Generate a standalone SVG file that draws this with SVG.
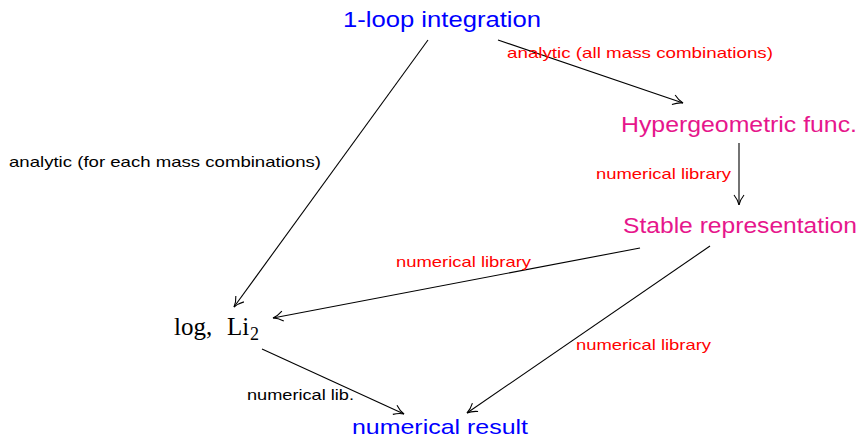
<svg xmlns="http://www.w3.org/2000/svg" width="860" height="441" viewBox="0 0 860 441">
<style>
.sans{font-family:"Liberation Sans","DejaVu Sans",sans-serif}
.node{font-size:22px}
.lbl{font-size:14.5px}
.blue{fill:#0000ff}
.mag{fill:#e6168c}
.red{fill:#ff0000}
.blk{fill:#000}
.edge{stroke:#000;stroke-width:1.1;fill:none;marker-end:url(#arr)}
</style>
<defs>
<marker id="arr" markerWidth="14" markerHeight="14" refX="10" refY="5" orient="auto" markerUnits="userSpaceOnUse" viewBox="0 0 14 10" overflow="visible">
<path d="M0,0 Q5,4 10,5 Q5,6 0,10" fill="none" stroke="#000" stroke-width="1.1"/>
</marker>
</defs>
<rect width="860" height="441" fill="#fff"/>
<g id="connectors">
<path class="edge" d="M428,40 L234,307"/>
<path class="edge" d="M498,40 L683,103"/>
<path class="edge" d="M739,143 L739,205"/>
<path class="edge" d="M640,248 L273,318"/>
<path class="edge" d="M710,246 L467,413"/>
<path class="edge" d="M262,349 L404,414"/>
<text class="sans lbl blk" x="9" y="167" textLength="312" lengthAdjust="spacingAndGlyphs">analytic (for each mass combinations)</text>
<text class="sans lbl red" x="507" y="58" textLength="266" lengthAdjust="spacingAndGlyphs">analytic (all mass combinations)</text>
<text class="sans lbl red" x="596" y="179" textLength="135" lengthAdjust="spacingAndGlyphs">numerical library</text>
<text class="sans lbl red" x="396" y="267" textLength="135" lengthAdjust="spacingAndGlyphs">numerical library</text>
<text class="sans lbl red" x="576" y="350" textLength="135" lengthAdjust="spacingAndGlyphs">numerical library</text>
<text class="sans lbl blk" x="247" y="400" textLength="107" lengthAdjust="spacingAndGlyphs">numerical lib.</text>
</g>
<g id="n-loop"><text class="sans node blue" x="343" y="27" textLength="198" lengthAdjust="spacingAndGlyphs">1-loop integration</text></g>
<g id="n-hyper"><text class="sans node mag" x="621" y="132" textLength="236" lengthAdjust="spacingAndGlyphs">Hypergeometric func.</text></g>
<g id="n-stable"><text class="sans node mag" x="623" y="233" textLength="234" lengthAdjust="spacingAndGlyphs">Stable representation</text></g>
<g id="n-log"><text y="335" style="font-family:'Liberation Serif','DejaVu Serif',serif;font-size:25px" fill="#000"><tspan x="174">log,</tspan><tspan x="227">Li</tspan><tspan x="250" dy="5" font-size="18">2</tspan></text></g>
<g id="n-result"><text class="sans blue" style="font-size:21px" x="352" y="434" textLength="176" lengthAdjust="spacingAndGlyphs">numerical result</text></g>
</svg>
